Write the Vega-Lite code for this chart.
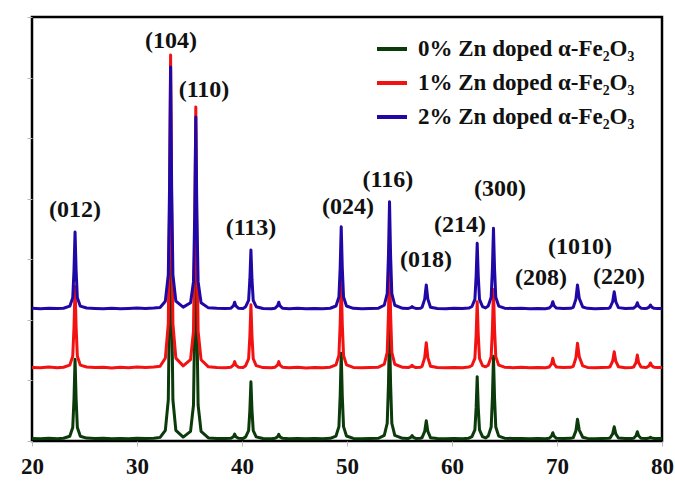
{
  "$schema": "https://vega.github.io/schema/vega-lite/v6.json",
  "width": 630,
  "height": 424,
  "autosize": "none",
  "padding": {"left": 32, "top": 17, "right": 13, "bottom": 43},
  "background": "white",
  "config": {
    "view": {"stroke": "#000000", "strokeWidth": 2.5},
    "font": "Liberation Serif"
  },
  "layer": [
    {
      "data": {"values": [
        {"x":20,"g":42,"r":1215,"b":2190},
        {"x":20.8,"g":36,"r":1208,"b":2184},
        {"x":21.6,"g":44,"r":1220,"b":2193},
        {"x":22.4,"g":38,"r":1210,"b":2186},
        {"x":23.0,"g":45,"r":1218,"b":2192},
        {"x":23.6,"g":79,"r":1253,"b":2226},
        {"x":23.88,"g":223,"r":1400,"b":2365},
        {"x":24.0,"g":695,"r":1882,"b":2820},
        {"x":24.1,"g":1350,"r":2550,"b":3451},
        {"x":24.2,"g":695,"r":1882,"b":2820},
        {"x":24.32,"g":223,"r":1400,"b":2365},
        {"x":24.6,"g":79,"r":1253,"b":2226},
        {"x":25.2,"g":48,"r":1222,"b":2196},
        {"x":26.0,"g":40,"r":1212,"b":2188},
        {"x":26.8,"g":44,"r":1219,"b":2183},
        {"x":27.6,"g":37,"r":1207,"b":2191},
        {"x":28.4,"g":43,"r":1216,"b":2185},
        {"x":29.2,"g":39,"r":1210,"b":2189},
        {"x":30.0,"g":45,"r":1220,"b":2194},
        {"x":30.8,"g":41,"r":1213,"b":2186},
        {"x":31.6,"g":47,"r":1222,"b":2195},
        {"x":32.2,"g":60,"r":1235,"b":2205},
        {"x":32.7,"g":177,"r":1368,"b":2308},
        {"x":32.98,"g":678,"r":1935,"b":2746},
        {"x":33.1,"g":2320,"r":3793,"b":4182},
        {"x":33.2,"g":4600,"r":6373,"b":6175},
        {"x":33.3,"g":2320,"r":3793,"b":4182},
        {"x":33.42,"g":678,"r":1935,"b":2746},
        {"x":33.7,"g":177,"r":1368,"b":2308},
        {"x":34.4,"g":65,"r":1240,"b":2210},
        {"x":35.1,"g":159,"r":1342,"b":2283},
        {"x":35.38,"g":594,"r":1815,"b":2631},
        {"x":35.5,"g":2020,"r":3364,"b":3769},
        {"x":35.6,"g":4000,"r":5514,"b":5349},
        {"x":35.7,"g":2020,"r":3364,"b":3769},
        {"x":35.82,"g":594,"r":1815,"b":2631},
        {"x":36.1,"g":159,"r":1342,"b":2283},
        {"x":36.8,"g":50,"r":1225,"b":2198},
        {"x":37.6,"g":42,"r":1214,"b":2190},
        {"x":38.4,"g":40,"r":1211,"b":2186},
        {"x":38.95,"g":44,"r":1218,"b":2193},
        {"x":39.18,"g":70,"r":1252,"b":2229},
        {"x":39.3,"g":115,"r":1310,"b":2290},
        {"x":39.42,"g":70,"r":1252,"b":2229},
        {"x":39.65,"g":44,"r":1218,"b":2193},
        {"x":40.1,"g":42,"r":1214,"b":2189},
        {"x":40.35,"g":68,"r":1244,"b":2217},
        {"x":40.63,"g":171,"r":1358,"b":2323},
        {"x":40.75,"g":510,"r":1732,"b":2671},
        {"x":40.85,"g":979,"r":2250,"b":3153},
        {"x":40.95,"g":510,"r":1732,"b":2671},
        {"x":41.07,"g":171,"r":1358,"b":2323},
        {"x":41.35,"g":68,"r":1244,"b":2217},
        {"x":42.0,"g":41,"r":1212,"b":2187},
        {"x":42.8,"g":37,"r":1208,"b":2183},
        {"x":43.15,"g":44,"r":1218,"b":2193},
        {"x":43.38,"g":68,"r":1252,"b":2229},
        {"x":43.5,"g":110,"r":1310,"b":2290},
        {"x":43.62,"g":68,"r":1252,"b":2229},
        {"x":43.85,"g":44,"r":1218,"b":2193},
        {"x":44.5,"g":39,"r":1209,"b":2184},
        {"x":45.3,"g":43,"r":1216,"b":2190},
        {"x":46.1,"g":37,"r":1207,"b":2182},
        {"x":46.9,"g":42,"r":1214,"b":2188},
        {"x":47.7,"g":38,"r":1209,"b":2185},
        {"x":48.4,"g":44,"r":1218,"b":2192},
        {"x":48.95,"g":82,"r":1256,"b":2229},
        {"x":49.23,"g":237,"r":1414,"b":2377},
        {"x":49.35,"g":745,"r":1932,"b":2863},
        {"x":49.45,"g":1450,"r":2650,"b":3538},
        {"x":49.55,"g":745,"r":1932,"b":2863},
        {"x":49.67,"g":237,"r":1414,"b":2377},
        {"x":49.95,"g":82,"r":1256,"b":2229},
        {"x":50.6,"g":43,"r":1215,"b":2190},
        {"x":51.4,"g":38,"r":1209,"b":2184},
        {"x":52.2,"g":42,"r":1214,"b":2189},
        {"x":53.0,"g":45,"r":1219,"b":2193},
        {"x":53.55,"g":94,"r":1267,"b":2241},
        {"x":53.83,"g":293,"r":1463,"b":2435},
        {"x":53.95,"g":945,"r":2107,"b":3070},
        {"x":54.05,"g":1850,"r":3000,"b":3951},
        {"x":54.15,"g":945,"r":2107,"b":3070},
        {"x":54.27,"g":293,"r":1463,"b":2435},
        {"x":54.55,"g":94,"r":1267,"b":2241},
        {"x":55.3,"g":44,"r":1216,"b":2190},
        {"x":55.85,"g":42,"r":1214,"b":2189},
        {"x":56.08,"g":60,"r":1228,"b":2201},
        {"x":56.2,"g":90,"r":1250,"b":2220},
        {"x":56.32,"g":60,"r":1228,"b":2201},
        {"x":56.55,"g":42,"r":1214,"b":2189},
        {"x":57.0,"g":45,"r":1218,"b":2192},
        {"x":57.15,"g":55,"r":1234,"b":2207},
        {"x":57.4,"g":158,"r":1377,"b":2343},
        {"x":57.55,"g":335,"r":1623,"b":2576},
        {"x":57.7,"g":158,"r":1377,"b":2343},
        {"x":57.95,"g":55,"r":1234,"b":2207},
        {"x":58.6,"g":41,"r":1212,"b":2187},
        {"x":59.4,"g":37,"r":1208,"b":2183},
        {"x":60.2,"g":43,"r":1215,"b":2190},
        {"x":61.0,"g":39,"r":1210,"b":2186},
        {"x":61.6,"g":46,"r":1220,"b":2194},
        {"x":61.9,"g":71,"r":1246,"b":2220},
        {"x":62.18,"g":183,"r":1365,"b":2339},
        {"x":62.3,"g":551,"r":1757,"b":2726},
        {"x":62.4,"g":1062,"r":2300,"b":3264},
        {"x":62.5,"g":551,"r":1757,"b":2726},
        {"x":62.62,"g":183,"r":1365,"b":2339},
        {"x":62.9,"g":71,"r":1246,"b":2220},
        {"x":63.2,"g":50,"r":1225,"b":2198},
        {"x":63.45,"g":81,"r":1252,"b":2228},
        {"x":63.73,"g":230,"r":1393,"b":2373},
        {"x":63.85,"g":720,"r":1857,"b":2850},
        {"x":63.95,"g":1400,"r":2500,"b":3512},
        {"x":64.05,"g":720,"r":1857,"b":2850},
        {"x":64.17,"g":230,"r":1393,"b":2373},
        {"x":64.45,"g":81,"r":1252,"b":2228},
        {"x":65.0,"g":46,"r":1219,"b":2193},
        {"x":65.8,"g":40,"r":1211,"b":2186},
        {"x":66.6,"g":43,"r":1216,"b":2190},
        {"x":67.4,"g":37,"r":1208,"b":2183},
        {"x":68.2,"g":42,"r":1214,"b":2188},
        {"x":68.9,"g":39,"r":1210,"b":2185},
        {"x":69.25,"g":45,"r":1221,"b":2194},
        {"x":69.48,"g":79,"r":1274,"b":2233},
        {"x":69.6,"g":137,"r":1365,"b":2300},
        {"x":69.72,"g":79,"r":1274,"b":2233},
        {"x":69.95,"g":45,"r":1221,"b":2194},
        {"x":70.6,"g":41,"r":1213,"b":2187},
        {"x":71.3,"g":44,"r":1217,"b":2191},
        {"x":71.55,"g":56,"r":1233,"b":2207},
        {"x":71.8,"g":167,"r":1373,"b":2343},
        {"x":71.95,"g":358,"r":1613,"b":2576},
        {"x":72.12,"g":180,"r":1390,"b":2355},
        {"x":72.45,"g":62,"r":1240,"b":2212},
        {"x":72.9,"g":43,"r":1215,"b":2190},
        {"x":73.6,"g":38,"r":1209,"b":2184},
        {"x":74.3,"g":42,"r":1214,"b":2188},
        {"x":74.9,"g":44,"r":1218,"b":2192},
        {"x":75.05,"g":50,"r":1226,"b":2202},
        {"x":75.3,"g":118,"r":1318,"b":2299},
        {"x":75.45,"g":236,"r":1475,"b":2465},
        {"x":75.6,"g":118,"r":1318,"b":2299},
        {"x":75.85,"g":50,"r":1226,"b":2202},
        {"x":76.5,"g":40,"r":1211,"b":2186},
        {"x":77.1,"g":43,"r":1215,"b":2190},
        {"x":77.3,"g":46,"r":1222,"b":2192},
        {"x":77.53,"g":86,"r":1296,"b":2226},
        {"x":77.65,"g":154,"r":1420,"b":2283},
        {"x":77.77,"g":86,"r":1296,"b":2226},
        {"x":78.0,"g":46,"r":1222,"b":2192},
        {"x":78.45,"g":41,"r":1213,"b":2188},
        {"x":78.55,"g":42,"r":1216,"b":2190},
        {"x":78.78,"g":48,"r":1243,"b":2211},
        {"x":78.9,"g":60,"r":1288,"b":2245},
        {"x":79.02,"g":48,"r":1243,"b":2211},
        {"x":79.25,"g":42,"r":1216,"b":2190},
        {"x":79.6,"g":40,"r":1212,"b":2187},
        {"x":80,"g":42,"r":1214,"b":2189}
      ]},
      "transform": [{"fold": ["g", "r", "b"], "as": ["s", "v"]}],
      "mark": {"type": "line", "strokeWidth": 3, "clip": true, "strokeJoin": "round"},
      "encoding": {
        "x": {
          "field": "x", "type": "quantitative",
          "scale": {"domain": [20, 80], "nice": false, "zero": false},
          "axis": {
            "values": [20, 30, 40, 50, 60, 70, 80],
            "title": null, "grid": false, "domain": false,
            "ticks": true, "tickSize": 5, "tickColor": "#bbbbbb", "tickWidth": 1,
            "labelFont": "Liberation Serif", "labelFontWeight": "bold",
            "labelFontSize": 23, "labelColor": "#111111", "labelPadding": 9,
            "labelFlush": false
          }
        },
        "y": {
          "field": "v", "type": "quantitative",
          "scale": {"domain": [0, 7000], "nice": false},
          "axis": {
            "values": [0, 1000, 2000, 3000, 4000, 5000, 6000, 7000],
            "title": null, "grid": false, "domain": false, "labels": false,
            "ticks": true, "tickSize": 5, "tickColor": "#bbbbbb", "tickWidth": 1
          }
        },
        "color": {
          "field": "s", "type": "nominal",
          "scale": {"domain": ["g", "r", "b"], "range": ["#0b3a0b", "#f21212", "#2008a6"]},
          "legend": {
            "title": null,
            "orient": "none",
            "legendX": 343,
            "legendY": 15,
            "symbolType": "stroke",
            "symbolSize": 900,
            "symbolStrokeWidth": 4,
            "labelFont": "Liberation Serif",
            "labelFontWeight": "bold",
            "labelFontSize": 23,
            "labelColor": "#111111",
            "labelOffset": 9,
            "rowPadding": 5,
            "padding": 0,
            "labelLimit": 400,
            "labelExpr": "datum.label == 'g' ? '0% Zn doped α-Fe₂O₃' : datum.label == 'r' ? '1% Zn doped α-Fe₂O₃' : '2% Zn doped α-Fe₂O₃'"
          }
        },
        "order": {"field": "x", "type": "quantitative"}
      }
    },
    {
      "data": {"values": [
        {"x": 24.1, "y": 3814, "t": "(012)"},
        {"x": 33.24, "y": 6604, "t": "(104)"},
        {"x": 36.38, "y": 5795, "t": "(110)"},
        {"x": 40.86, "y": 3517, "t": "(113)"},
        {"x": 50.1, "y": 3863, "t": "(024)"},
        {"x": 53.9, "y": 4309, "t": "(116)"},
        {"x": 57.52, "y": 2988, "t": "(018)"},
        {"x": 60.76, "y": 3566, "t": "(214)"},
        {"x": 64.57, "y": 4161, "t": "(300)"},
        {"x": 72.19, "y": 3203, "t": "(1010)"},
        {"x": 68.48, "y": 2691, "t": "(208)"},
        {"x": 75.9, "y": 2708, "t": "(220)"}
      ]},
      "mark": {
        "type": "text", "font": "Liberation Serif", "fontWeight": "bold",
        "fontSize": 24, "color": "#111111", "align": "center", "baseline": "middle"
      },
      "encoding": {
        "x": {"field": "x", "type": "quantitative"},
        "y": {"field": "y", "type": "quantitative"},
        "text": {"field": "t", "type": "nominal"}
      }
    }
  ]
}
